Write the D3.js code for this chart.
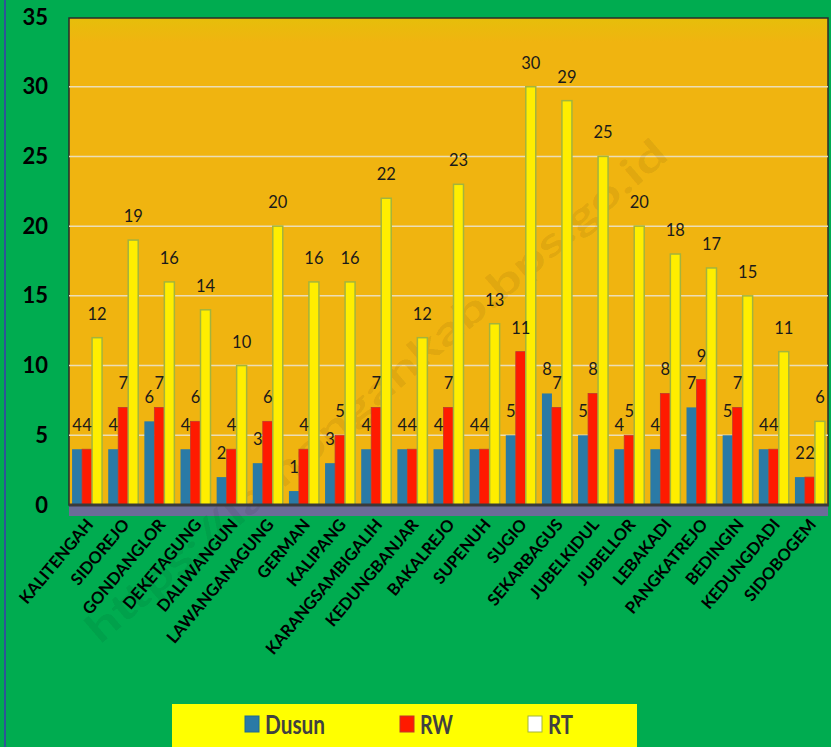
<!DOCTYPE html>
<html>
<head>
<meta charset="utf-8">
<script src="https://cdn.jsdelivr.net/npm/d3@7"></script>
<style>
  body { margin: 0; background: #00AC50; }
  svg { display: block; }
</style>
</head>
<body>
<svg id="chart" width="831" height="747"></svg>
<script>
var categories = ["KALITENGAH", "SIDOREJO", "GONDANGLOR", "DEKETAGUNG", "DALIWANGUN",
  "LAWANGANAGUNG", "GERMAN", "KALIPANG", "KARANGSAMBIGALIH", "KEDUNGBANJAR",
  "BAKALREJO", "SUPENUH", "SUGIO", "SEKARBAGUS", "JUBELKIDUL", "JUBELLOR",
  "LEBAKADI", "PANGKATREJO", "BEDINGIN", "KEDUNGDADI", "SIDOBOGEM"];
var dusun = [4, 4, 6, 4, 2, 3, 1, 3, 4, 4, 4, 4, 5, 8, 5, 4, 4, 7, 5, 4, 2];
var rw = [4, 7, 7, 6, 4, 6, 4, 5, 7, 4, 7, 4, 11, 7, 8, 5, 8, 9, 7, 4, 2];
var rt = [12, 19, 16, 14, 10, 20, 16, 16, 22, 12, 23, 13, 30, 29, 25, 20, 18, 17, 15, 11, 6];
var seriesNames = ["Dusun", "RW", "RT"];
var yTicks = [0, 5, 10, 15, 20, 25, 30, 35];

var colors = { Dusun: "#2A7AA6", RW: "#FF1A00", RT: "#FFEE00" };
var font = "Lato, 'Open Sans', sans-serif";

var svg = d3.select("#chart");
var plotLeft = 69, plotRight = 828, plotTop = 17, plotBottom = 505;

// thin blue edge on the left
svg.append("line").attr("x1", 5).attr("x2", 5).attr("y1", 0).attr("y2", 747)
  .attr("stroke", "#2F5597").attr("stroke-width", 2);

var x = d3.scaleBand().domain(categories).range([plotLeft, plotRight]).paddingInner(0.17).paddingOuter(0.085);
var xs = d3.scaleBand().domain(seriesNames).range([0, x.bandwidth()]);
var y = d3.scaleLinear().domain([0, 35]).range([plotBottom, plotTop]);

// plot background
var grad = svg.append("defs").append("linearGradient").attr("id", "bg").attr("x1", 0).attr("x2", 0).attr("y1", 0).attr("y2", 1);
grad.append("stop").attr("offset", "0").attr("stop-color", "#E6BE0A");
grad.append("stop").attr("offset", "0.05").attr("stop-color", "#F0B410");
grad.append("stop").attr("offset", "1").attr("stop-color", "#F0B410");
svg.append("rect").attr("x", plotLeft).attr("y", plotTop + 1).attr("width", plotRight - plotLeft).attr("height", plotBottom - plotTop - 1)
  .attr("fill", "url(#bg)").attr("stroke", "#2b2b2b").attr("stroke-width", 1.5);

// shadow under axis
svg.append("rect").attr("x", plotLeft).attr("y", plotBottom + 1).attr("width", plotRight - plotLeft).attr("height", 10)
  .attr("fill", "#6C6C98");

// gridlines
svg.append("g").selectAll("line").data(yTicks.filter(function(d) { return d > 0 && d < 35; }))
  .enter().append("line")
  .attr("x1", plotLeft).attr("x2", plotRight)
  .attr("y1", function(d) { return y(d); }).attr("y2", function(d) { return y(d); })
  .attr("stroke", "#EBDDB8").attr("stroke-width", 1.5);

// y axis labels
var yAxis = d3.axisLeft(y).tickValues(yTicks).tickSize(0).tickPadding(21);
var ya = svg.append("g").attr("transform", "translate(" + plotLeft + ",0)").call(yAxis);
ya.select(".domain").remove();
ya.selectAll("text").attr("font-family", font).attr("font-weight", "bold")
  .attr("font-size", 22).attr("fill", "#000");

// watermark
svg.append("text")
  .attr("transform", "translate(100,645) rotate(-40.5)")
  .attr("font-family", font).attr("font-weight", "bold").attr("font-size", 40)
  .attr("textLength", 750).attr("lengthAdjust", "spacingAndGlyphs")
  .attr("fill", "#000").attr("fill-opacity", 0.08)
  .text("https://lamongankab.bps.go.id");

var rows = categories.map(function(c, i) {
  return { cat: c, values: [
    { key: "Dusun", value: dusun[i] },
    { key: "RW", value: rw[i] },
    { key: "RT", value: rt[i] }
  ] };
});

var groups = svg.append("g").selectAll("g").data(rows).enter().append("g")
  .attr("transform", function(d) { return "translate(" + x(d.cat) + ",0)"; });

groups.selectAll("rect").data(function(d) { return d.values; }).enter().append("rect")
  .attr("x", function(d) { return xs(d.key); })
  .attr("width", xs.bandwidth())
  .attr("y", function(d) { return y(d.value); })
  .attr("height", function(d) { return plotBottom - y(d.value); })
  .attr("fill", function(d) { return colors[d.key]; })
  .attr("stroke", function(d) { return d.key == "RT" ? "#A3B43C" : (d.key == "RW" ? "#C0392B" : "none"); })
  .attr("stroke-width", function(d) { return d.key == "RT" ? 1.5 : 0.8; });

groups.selectAll("text").data(function(d) { return d.values; }).enter().append("text")
  .attr("x", function(d) { return xs(d.key) + xs.bandwidth() / 2; })
  .attr("y", function(d) { return y(d.value) - 18; })
  .attr("text-anchor", "middle")
  .attr("font-family", font).attr("font-size", 16.5).attr("fill", "#1a1a1a")
  .text(function(d) { return d.value; });

// x axis line
svg.append("line").attr("x1", plotLeft).attr("x2", plotRight + 1).attr("y1", plotBottom).attr("y2", plotBottom)
  .attr("stroke", "#3a3a3a").attr("stroke-width", 3);

// category labels
svg.append("g").selectAll("text").data(categories).enter().append("text")
  .attr("transform", function(d) {
    return "translate(" + (x(d) + x.bandwidth() / 2 + 7) + "," + (plotBottom + 20) + ") rotate(-50)";
  })
  .attr("text-anchor", "end")
  .attr("font-family", font).attr("font-weight", "bold").attr("font-size", 16.5).attr("fill", "#000")
  .text(function(d) { return d; });

// legend
var legend = svg.append("g");
legend.append("rect").attr("x", 172).attr("y", 704).attr("width", 465).attr("height", 50).attr("fill", "#FFFF00");
var legendX = [245, 400, 528];
var legendW = [60, 33, 25];
seriesNames.forEach(function(name, i) {
  legend.append("rect").attr("x", legendX[i]).attr("y", 716).attr("width", 14).attr("height", 16)
    .attr("fill", name == "RT" ? "#FFFFFF" : colors[name])
    .attr("stroke", name == "RT" ? "#A3B43C" : (name == "RW" ? "#C0392B" : "#1F6A92")).attr("stroke-width", 1);
  legend.append("text").attr("x", legendX[i] + 20).attr("y", 734)
    .attr("font-family", font).attr("font-weight", "bold").attr("font-size", 26).attr("fill", "#404040")
    .attr("textLength", legendW[i]).attr("lengthAdjust", "spacingAndGlyphs")
    .text(name);
});
</script>
</body>
</html>
